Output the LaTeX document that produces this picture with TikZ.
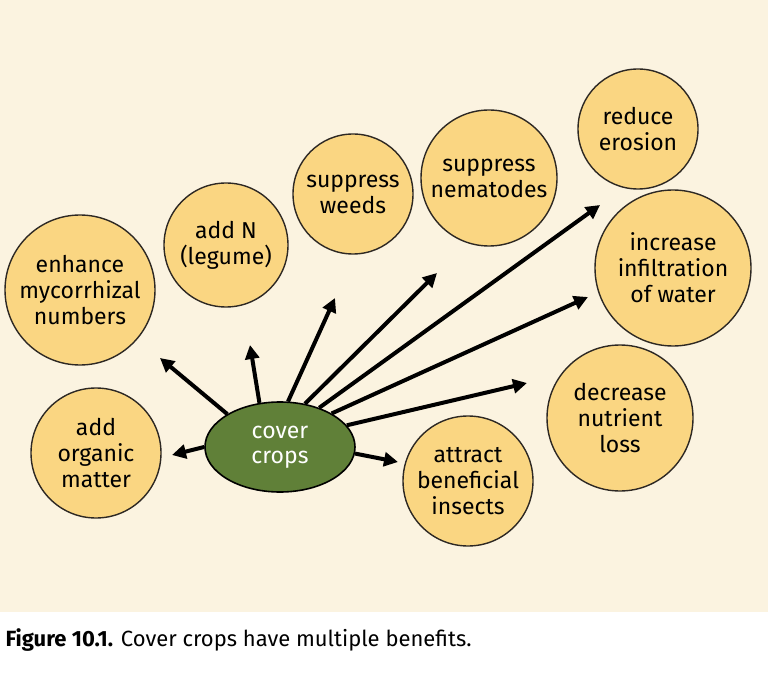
\documentclass[tikz,border=0pt]{standalone}
\usepackage{fontspec}
\setmainfont{Fira Sans}
\usetikzlibrary{arrows.meta}
\definecolor{panelBg}{RGB}{251,243,224}
\definecolor{benefitFill}{RGB}{250,214,130}
\definecolor{cropGreen}{RGB}{96,128,56}
\definecolor{lineCol}{RGB}{45,40,35}
\tikzset{
  benefit/.style={circle,draw=lineCol,line width=1.4pt,fill=benefitFill,
    inner sep=0pt,align=center,font=\fontsize{23}{26}\selectfont},
  crop/.style={ellipse,draw=black,line width=1.6pt,fill=cropGreen,
    minimum width=150pt,minimum height=90pt,text=white,align=center,
    font=\fontsize{23}{25}\selectfont},
  arr/.style={-{Triangle[length=14pt,width=14pt]},line width=4pt},
}
\usetikzlibrary{shapes.geometric}
\begin{document}
\begin{tikzpicture}[x=1pt,y=-1pt]

% background panel and caption
\path[fill=white] (0,0) rectangle (768,676);
\path[fill=panelBg] (0,0) rectangle (768,612);
\useasboundingbox (0,0) rectangle (768,676);
\node[anchor=west,font=\fontsize{22}{24}\selectfont] (cap) at (2,640)
  {\textbf{Figure 10.1.} Cover crops have multiple benefits.};

% --- hub ---
\node[crop] (cc) at (280,447) {cover\\crops};

% --- benefits ---
\node[benefit,minimum size=130pt] (org) at (96,453)  {add\\organic\\matter};
\node[benefit,minimum size=150pt] (myc) at (80,290)  {enhance\\mycorrhizal\\numbers};
\node[benefit,minimum size=124pt] (nit) at (226,245) {add N\\(legume)};
\node[benefit,minimum size=120pt] (wee) at (353,194) {suppress\\weeds};
\node[benefit,minimum size=136pt] (nem) at (489,178) {suppress\\nematodes};
\node[benefit,minimum size=120pt] (ero) at (638,129) {reduce\\erosion};
\node[benefit,minimum size=156pt] (inf) at (673,268) {increase\\infiltration\\of water};
\node[benefit,minimum size=146pt] (nut) at (620,418) {decrease\\nutrient\\loss};
\node[benefit,minimum size=130pt] (ins) at (468,481) {attract\\beneficial\\insects};

% --- arrow tips ---
\coordinate (tOrg) at (172,455);
\coordinate (tMyc) at (160,358);
\coordinate (tNit) at (250,345);
\coordinate (tWee) at (335,298);
\coordinate (tNem) at (437,273);
\coordinate (tEro) at (600,205);
\coordinate (tInf) at (588,297);
\coordinate (tNut) at (527,383);
\coordinate (tIns) at (398,462);

\draw[arr] (cc.west) -- (tOrg);
\draw[arr] (cc.148) -- (tMyc);
\draw[arr] (cc.115) -- (tNit);
\draw[arr] (cc.80) -- (tWee);
\draw[arr] (cc.60) -- (tNem);
\draw[arr] (cc.45) -- (tEro);
\draw[arr] (cc.33) -- (tInf);
\draw[arr] (cc.18) -- (tNut);
\draw[arr] (cc.-5) -- (tIns);

\end{tikzpicture}
\end{document}
